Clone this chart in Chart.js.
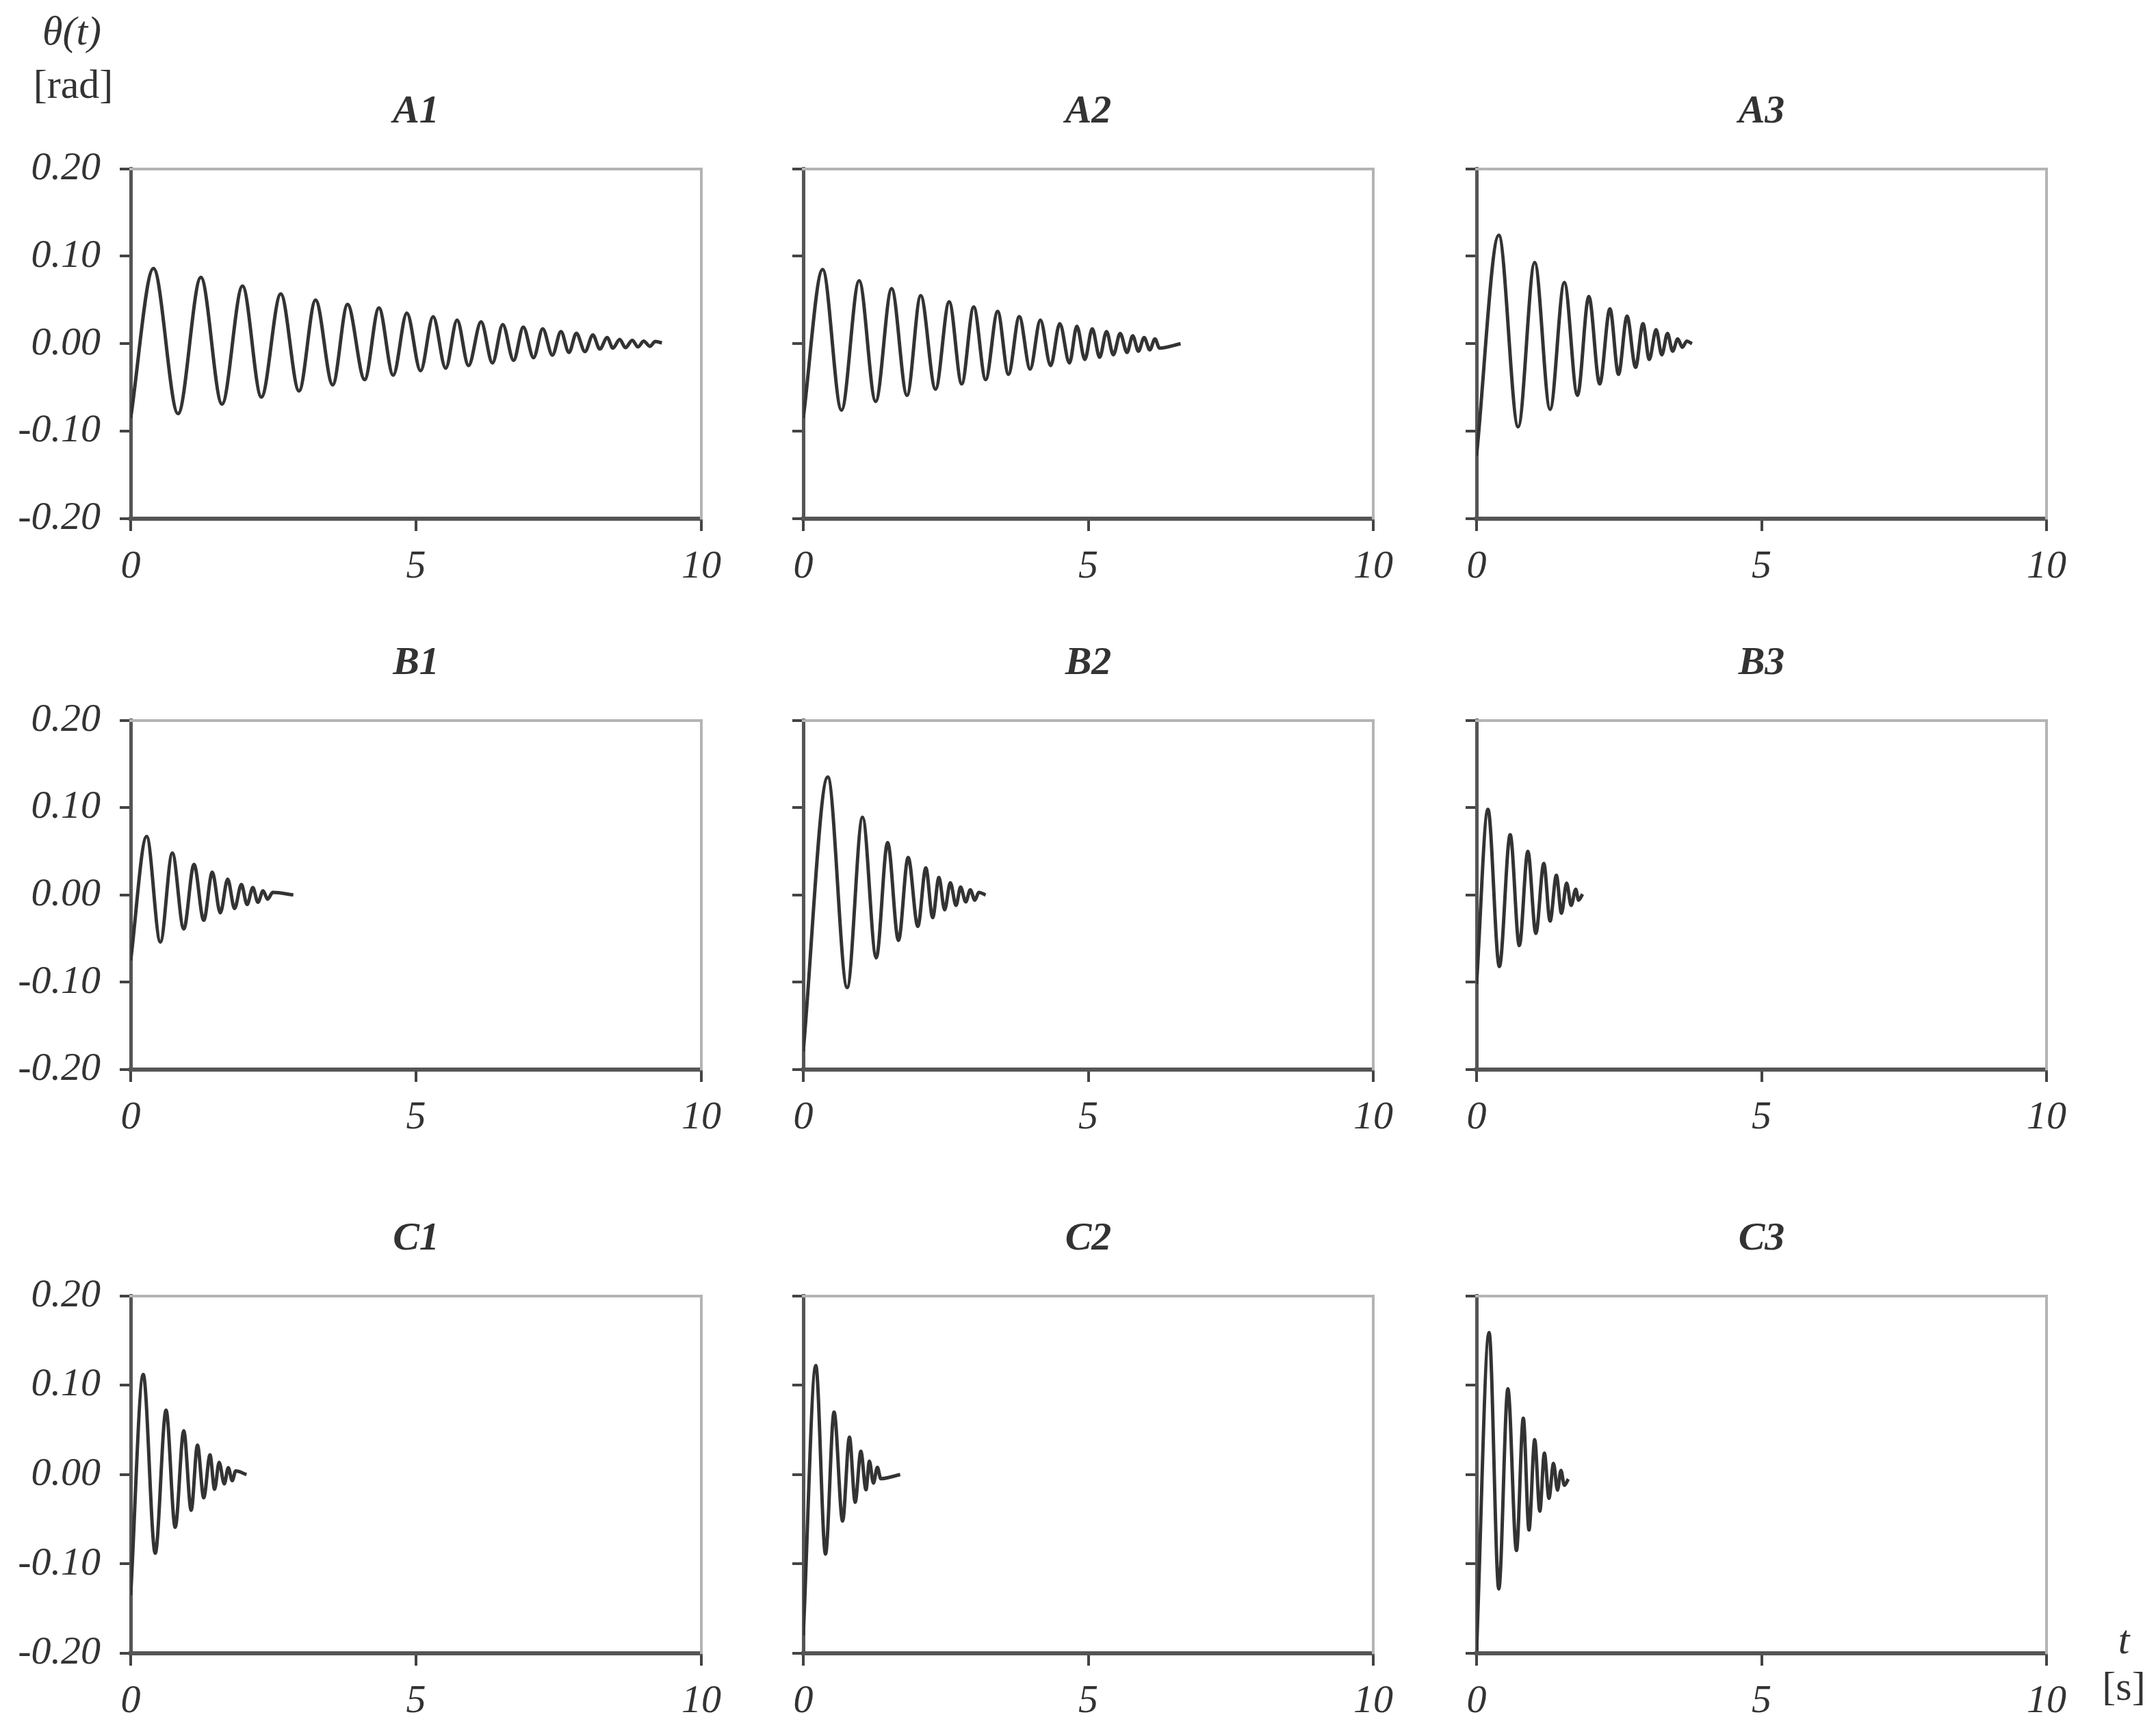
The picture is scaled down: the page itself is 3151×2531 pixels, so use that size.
<!DOCTYPE html>
<html>
<head>
<meta charset="utf-8">
<script src="https://cdn.jsdelivr.net/npm/chart.js@4.4.1/dist/chart.umd.min.js"></script>
<style>
  body { margin: 0; background: #fff; }
  #page { position: relative; width: 3151px; height: 2531px; background: #fff;
          font-family: 'Liberation Serif', 'Times New Roman', serif; color: #333; }
  .panel { position: absolute; }
  .lbl { position: absolute; width: 200px; text-align: center; font-size: 60px; line-height: 60px; }
</style>
</head>
<body>
<div id="page">
  <div class="lbl" style="left:5px;top:15px;font-style:italic">θ(t)</div>
  <div class="lbl" style="left:7px;top:93px">[rad]</div>
  <div class="lbl" style="left:3004px;top:2366px;font-style:italic">t</div>
  <div class="lbl" style="left:3004px;top:2434px">[s]</div>
</div>
<script>
// axis ticks
const xTicks = [0, 5, 10];
const yTicks = [-0.2, -0.1, 0, 0.1, 0.2];

// panel names, row by row
const panelNames = ['A1', 'A2', 'A3', 'B1', 'B2', 'B3', 'C1', 'C2', 'C3'];

// theta(t): start, then peaks / troughs, then end point
const tA1 = [0, 0.40, 0.83, 1.23, 1.60, 1.96, 2.29, 2.63, 2.95, 3.24, 3.54, 3.80, 4.10, 4.35, 4.60,
             4.84, 5.08, 5.30, 5.52, 5.72, 5.92, 6.14, 6.34, 6.52, 6.71, 6.88, 7.06, 7.22, 7.39, 7.54,
             7.68, 7.81, 7.96, 8.10, 8.22, 8.35, 8.45, 8.57, 8.67, 8.79, 8.89, 8.99, 9.10, 9.19, 9.31];
const yA1 = [-0.085, 0.086, -0.080, 0.076, -0.069, 0.066, -0.061, 0.057, -0.054, 0.050, -0.047, 0.045, -0.041, 0.041, -0.036,
             0.035, -0.031, 0.031, -0.028, 0.027, -0.025, 0.025, -0.022, 0.022, -0.019, 0.019, -0.016, 0.017, -0.013, 0.014,
             -0.010, 0.012, -0.009, 0.010, -0.006, 0.007, -0.005, 0.005, -0.0045, 0.004, -0.0037, 0.003, -0.003, 0.0025, 0.001];

const tA2 = [0, 0.34, 0.67, 0.98, 1.27, 1.55, 1.82, 2.06, 2.32, 2.56, 2.78, 2.99, 3.20, 3.41, 3.60, 3.79, 3.98, 4.16,
             4.34, 4.50, 4.67, 4.80, 4.94, 5.07, 5.20, 5.32, 5.44, 5.56, 5.68, 5.78, 5.88, 5.98, 6.08, 6.17, 6.25, 6.62];
const yA2 = [-0.085, 0.085, -0.076, 0.072, -0.066, 0.063, -0.059, 0.055, -0.052, 0.048, -0.046, 0.042, -0.041, 0.037, -0.035, 0.031, -0.029, 0.027,
             -0.025, 0.023, -0.022, 0.020, -0.018, 0.017, -0.0155, 0.014, -0.0127, 0.0118, -0.0099, 0.009, -0.0085, 0.007, -0.007, 0.0056, -0.005, 0];

const tA3 = [0, 0.39, 0.73, 1.02, 1.29, 1.54, 1.77, 1.97, 2.16, 2.34, 2.49, 2.64, 2.79, 2.92, 3.03, 3.15, 3.25, 3.35, 3.44, 3.53, 3.61, 3.69, 3.78];
const yA3 = [-0.128, 0.124, -0.095, 0.093, -0.075, 0.070, -0.059, 0.054, -0.046, 0.040, -0.035, 0.0315, -0.027, 0.023, -0.018, 0.016, -0.0127, 0.0118, -0.0085, 0.0056, -0.004, 0.003, 0];

const tB1 = [0, 0.28, 0.52, 0.73, 0.93, 1.11, 1.28, 1.43, 1.57, 1.70, 1.82, 1.94, 2.04, 2.14, 2.23, 2.32, 2.40, 2.49, 2.85];
const yB1 = [-0.075, 0.067, -0.054, 0.048, -0.039, 0.035, -0.029, 0.026, -0.0205, 0.018, -0.0155, 0.012, -0.011, 0.0084, -0.0084, 0.0048, -0.0048, 0.003, 0];

const tB2 = [0, 0.43, 0.77, 1.04, 1.28, 1.48, 1.67, 1.84, 2.01, 2.15, 2.27, 2.38, 2.48, 2.58, 2.68, 2.76, 2.85, 2.93, 3.01, 3.08, 3.20];
const yB2 = [-0.179, 0.135, -0.106, 0.089, -0.072, 0.060, -0.052, 0.043, -0.036, 0.031, -0.026, 0.020, -0.017, 0.014, -0.012, 0.009, -0.008, 0.006, -0.006, 0.003, 0];

const tB3 = [0, 0.20, 0.40, 0.59, 0.75, 0.90, 1.04, 1.18, 1.29, 1.40, 1.49, 1.58, 1.66, 1.74, 1.79, 1.86];
const yB3 = [-0.102, 0.098, -0.082, 0.069, -0.058, 0.050, -0.044, 0.036, -0.030, 0.0225, -0.021, 0.0135, -0.012, 0.0065, -0.006, 0.001];

const tC1 = [0, 0.22, 0.43, 0.62, 0.78, 0.93, 1.06, 1.17, 1.28, 1.39, 1.47, 1.55, 1.64, 1.71, 1.78, 1.84, 2.03];
const yC1 = [-0.135, 0.112, -0.088, 0.072, -0.059, 0.049, -0.040, 0.033, -0.026, 0.022, -0.0165, 0.0137, -0.0104, 0.0077, -0.0069, 0.004, 0];

const tC2 = [0, 0.22, 0.39, 0.54, 0.69, 0.81, 0.91, 1.01, 1.10, 1.16, 1.23, 1.30, 1.36, 1.70];
const yC2 = [-0.18, 0.122, -0.089, 0.070, -0.052, 0.042, -0.031, 0.026, -0.017, 0.015, -0.0095, 0.008, -0.0046, 0];

const tC3 = [0, 0.22, 0.39, 0.55, 0.70, 0.82, 0.92, 1.02, 1.11, 1.19, 1.27, 1.35, 1.42, 1.48, 1.54, 1.61];
const yC3 = [-0.197, 0.159, -0.128, 0.096, -0.085, 0.063, -0.062, 0.039, -0.041, 0.024, -0.0265, 0.0124, -0.0174, 0.0047, -0.012, -0.005];

const panelTimes = [tA1, tA2, tA3, tB1, tB2, tB3, tC1, tC2, tC3];
const panelThetas = [yA1, yA2, yA3, yB1, yB2, yB3, yC1, yC2, yC3];

// page layout (plot area edges, px)
const colLeft = [191, 1174, 2158];
const colRight = [1025, 2007, 2991];
const rowTop = [247, 1053, 1894];
const rowBottom = [758, 1563, 2416];

const Y_AXIS_W = 170;
const X_AXIS_H = 110;
const PAD_R = 60;
const TITLE_SIZE = 58;
const TITLE_PAD = 48;
const FONT = "'Liberation Serif', 'Times New Roman', serif";
const INK = '#333';

const page = document.getElementById('page');

function makePanel(i) {
    const col = i % 3, row = Math.floor(i / 3);
    const plotW = colRight[col] - colLeft[col];
    const plotH = rowBottom[row] - rowTop[row];
    const titleH = TITLE_SIZE * 1.2 + TITLE_PAD;
    const w = Y_AXIS_W + plotW + PAD_R;
    const h = Math.round(titleH + plotH + X_AXIS_H);

    const div = document.createElement('div');
    div.className = 'panel';
    let left = colLeft[col] - Y_AXIS_W;
    let top = rowTop[row] - titleH;
    div.style.left = left + 'px';
    div.style.top = top + 'px';
    const canvas = document.createElement('canvas');
    canvas.width = w;
    canvas.height = h;
    canvas.style.width = w + 'px';
    canvas.style.height = h + 'px';
    div.appendChild(canvas);
    page.appendChild(div);

    const points = panelTimes[i].map((t, k) => ({ x: t, y: panelThetas[i][k] }));

    const tickFont = { family: FONT, size: 58, style: 'italic' };

    const chart = new Chart(canvas, {
        type: 'line',
        data: {
            datasets: [{
                data: points,
                borderColor: '#333',
                borderWidth: 5,
                pointRadius: 0,
                fill: false,
                cubicInterpolationMode: 'monotone'
            }]
        },
        options: {
            responsive: false,
            animation: false,
            devicePixelRatio: 1,
            layout: { padding: { left: 0, right: PAD_R, top: 0, bottom: 0 } },
            plugins: {
                legend: { display: false },
                tooltip: { enabled: false },
                title: {
                    display: true,
                    text: panelNames[i],
                    fullSize: false,
                    color: INK,
                    font: { family: FONT, size: TITLE_SIZE, style: 'italic', weight: 'bold', lineHeight: 1.2 },
                    padding: { top: 0, bottom: TITLE_PAD }
                }
            },
            scales: {
                x: {
                    type: 'linear',
                    position: 'bottom',
                    min: 0,
                    max: 10,
                    afterBuildTicks: s => { s.ticks = xTicks.map(v => ({ value: v })); },
                    afterFit: s => { s.height = X_AXIS_H; },
                    grid: { display: true, drawOnChartArea: false, drawTicks: true, tickLength: 18, color: '#444', lineWidth: 4 },
                    border: { display: true, color: '#555', width: 6 },
                    ticks: { color: INK, font: tickFont, padding: 18, maxRotation: 0, autoSkip: false }
                },
                y: {
                    type: 'linear',
                    position: 'left',
                    min: -0.2,
                    max: 0.2,
                    afterBuildTicks: s => { s.ticks = yTicks.map(v => ({ value: v })); },
                    afterFit: s => { s.width = Y_AXIS_W; },
                    grid: { display: true, drawOnChartArea: false, drawTicks: true, tickLength: 16, color: '#444', lineWidth: 4 },
                    border: { display: true, color: '#555', width: 5 },
                    // only the first column carries the value labels
                    ticks: { display: col === 0, color: INK, font: tickFont, padding: 28, autoSkip: false,
                             callback: v => v.toFixed(2) }
                },
                x2: {
                    type: 'linear',
                    position: 'top',
                    min: 0,
                    max: 10,
                    grid: { display: false, drawTicks: false },
                    ticks: { display: false },
                    border: { display: true, color: '#b4b4b4', width: 4 }
                },
                y2: {
                    type: 'linear',
                    position: 'right',
                    min: -0.2,
                    max: 0.2,
                    grid: { display: false, drawTicks: false },
                    ticks: { display: false },
                    border: { display: true, color: '#b4b4b4', width: 4 }
                }
            }
        }
    });

    // nudge the canvas so the plot area sits where it does in the figure
    const area = chart.chartArea;
    left += colLeft[col] - (left + area.left);
    top += rowTop[row] - (top + area.top);
    div.style.left = left + 'px';
    div.style.top = top + 'px';
}

for (let i = 0; i < panelNames.length; i++) {
    makePanel(i);
}
</script>
</body>
</html>
